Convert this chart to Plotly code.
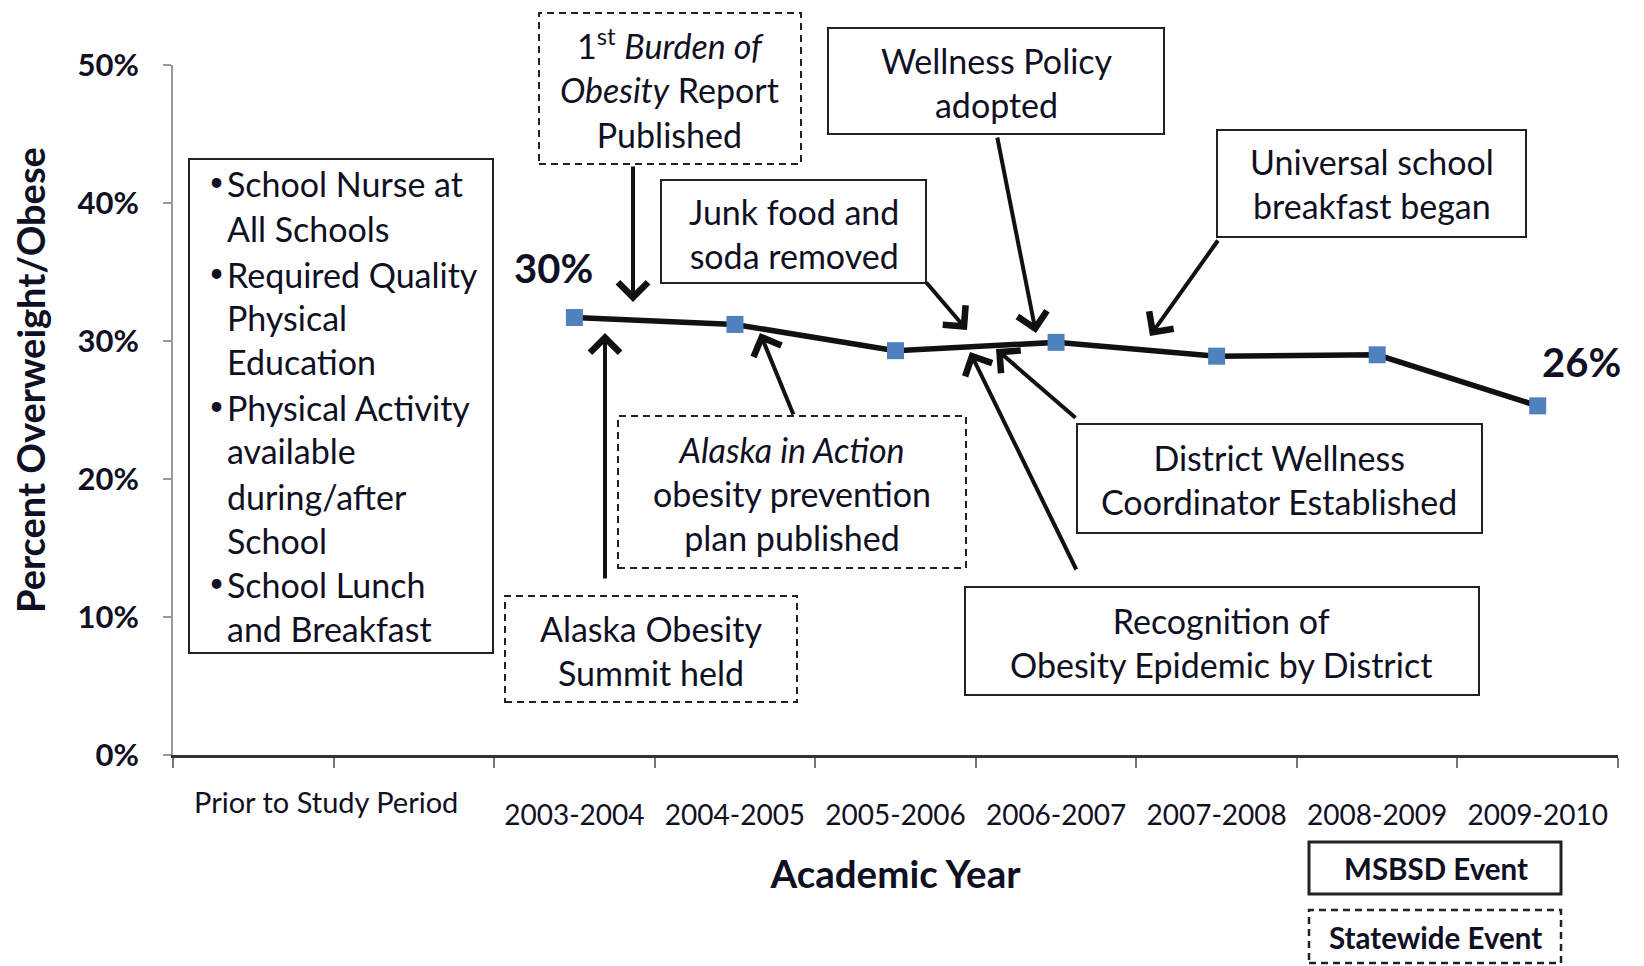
import plotly.graph_objects as go

# ---------------- data ----------------
categories = ["2003-2004", "2004-2005", "2005-2006", "2006-2007",
              "2007-2008", "2008-2009", "2009-2010"]
percent_overweight = [31.7, 31.2, 29.3, 29.9, 28.9, 29.0, 25.3]
prior_label = "Prior to Study Period"
y_ticks = [0, 10, 20, 30, 40, 50]
first_label = "30%"
last_label = "26%"
y_title = "Percent Overweight/Obese"
x_title = "Academic Year"

prior_items = ["School Nurse at", "All Schools", "Required Quality", "Physical",
               "Education", "Physical Activity", "available", "during/after",
               "School", "School Lunch", "and Breakfast"]
prior_bullet_lines = [0, 2, 5, 9]

event_texts = [
    "1<sup>st</sup> <i>Burden of</i><br><i>Obesity</i> Report<br>Published",
    "Wellness Policy<br>adopted",
    "Junk food and<br>soda removed",
    "Universal school<br>breakfast began",
    "<i>Alaska in Action</i><br>obesity prevention<br>plan published",
    "Alaska Obesity<br>Summit held",
    "District Wellness<br>Coordinator Established",
    "Recognition of<br>Obesity Epidemic by District",
]
event_kind = ["state", "district", "district", "district",
              "state", "state", "district", "district"]
legend_texts = ["MSBSD Event", "Statewide Event"]

# ---------------- layout geometry (pixels) ----------------
W, H = 1644, 966
L, R, T, B = 173, 1618, 65, 755


def px_x(px):
    return (px - L) / (R - L)


def px_y(py):
    return (B - py) / (B - T)


FONT = "Lato, 'Open Sans', sans-serif"
TXT = "#101024"

x_pos = [i + 2.5 for i in range(len(categories))]

fig = go.Figure()
fig.add_trace(go.Scatter(
    x=x_pos, y=percent_overweight, mode="lines+markers",
    line=dict(color="#111111", width=5.5),
    marker=dict(symbol="square", size=17, color="#4F81BD",
                line=dict(width=0)),
    hoverinfo="skip", showlegend=False,
))

shapes = []
annotations = []


def box(x0, y0, x1, y1, dashed, width=2):
    shapes.append(dict(
        type="rect", xref="paper", yref="paper",
        x0=px_x(x0), x1=px_x(x1), y0=px_y(y1), y1=px_y(y0),
        line=dict(color="#222222", width=width,
                  dash="7px,5px" if dashed else "solid"),
        fillcolor="rgba(0,0,0,0)", layer="above",
    ))


def text(cx, cy, s, size=34, bold=False, xanchor="center", angle=0):
    annotations.append(dict(
        x=px_x(cx), y=px_y(cy), xref="paper", yref="paper",
        text=s, showarrow=False, xanchor=xanchor, yanchor="middle",
        align="center" if xanchor == "center" else "left",
        textangle=angle,
        font=dict(family=FONT, size=size, color=TXT,
                  weight="bold" if bold else "normal"),
    ))


def arrow(tx, ty, hx, hy):
    annotations.append(dict(
        x=px_x(hx), y=px_y(hy), xref="paper", yref="paper",
        ax=tx - hx, ay=ty - hy, axref="pixel", ayref="pixel",
        text="", showarrow=True, arrowhead=4, arrowsize=1.45,
        arrowwidth=4, arrowcolor="#111111", standoff=0, startstandoff=0,
    ))


# prior-period box with bullets
box(189, 159, 493, 653, False)
line_y = [183, 228, 274, 317, 362, 407, 451, 496, 540, 584, 628]
for i, s in enumerate(prior_items):
    text(225, line_y[i], s, size=34, xanchor="left")
    if i in prior_bullet_lines:
        text(207, line_y[i] - 2, "•", size=26, xanchor="left")

# event boxes: (box rect, text centre)
event_boxes = [
    ((539, 13, 801, 164), (669, 88)),
    ((828, 28, 1164, 134), (997, 82)),
    ((661, 180, 926, 283), (794, 234)),
    ((1217, 130, 1526, 237), (1372, 183)),
    ((618, 416, 966, 568), (792, 493)),
    ((505, 596, 797, 702), (651, 650)),
    ((1077, 424, 1482, 533), (1279, 479)),
    ((965, 587, 1479, 695), (1221, 642)),
]
for s, kind, (rect, c) in zip(event_texts, event_kind, event_boxes):
    box(*rect, dashed=(kind == "state"))
    text(c[0], c[1], s, size=34)

# arrows (tail -> head)
arrow(633, 165, 633, 302)
arrow(605, 580, 605, 333)
arrow(794, 416, 760, 333)
arrow(925, 281, 967, 330)
arrow(997, 136, 1036, 333)
arrow(1219, 239, 1150, 336)
arrow(1077, 419, 996, 349)
arrow(1077, 571, 970, 352)

# legend boxes
box(1309, 842, 1561, 894, False, width=3)
box(1309, 910, 1561, 963, True, width=2.5)
text(1436, 868, legend_texts[0], size=29.5, bold=True)
text(1435, 937, legend_texts[1], size=29.5, bold=True)

# y-axis title (placed as in the reference, slightly above centre)
text(30, 380, y_title, size=38, bold=True, angle=-90)

# prior-period category label (sits a little higher than the year labels)
annotations.append(dict(x=0.95, y=px_y(802), xref="x", yref="paper",
                        text=prior_label, showarrow=False, yanchor="middle",
                        font=dict(family=FONT, size=29, color=TXT)))

# first / last value labels
annotations.append(dict(x=x_pos[0], y=percent_overweight[0], xref="x", yref="y",
                        text=first_label, showarrow=False, xshift=-21, yshift=50,
                        font=dict(family=FONT, size=40, color=TXT, weight="bold")))
annotations.append(dict(x=x_pos[-1], y=percent_overweight[-1], xref="x", yref="y",
                        text=last_label, showarrow=False, xshift=44, yshift=44,
                        font=dict(family=FONT, size=40, color=TXT, weight="bold")))

fig.update_layout(
    width=W, height=H,
    margin=dict(l=L, r=W - R, t=T, b=H - B, pad=0),
    paper_bgcolor="white", plot_bgcolor="white",
    font=dict(family=FONT, color=TXT),
    showlegend=False,
    shapes=shapes, annotations=annotations,
    xaxis=dict(
        range=[0, 9], showgrid=False, zeroline=False,
        showline=True, linecolor="#333333", linewidth=3,
        tickmode="array", tickvals=x_pos,
        ticktext=categories, ticks="",
        tickfont=dict(family=FONT, size=28, color=TXT),
        ticklabelstandoff=33,
        minor=dict(tickmode="array", tickvals=list(range(10)), ticks="outside",
                   ticklen=10, tickwidth=1.5, tickcolor="#777777"),
        title=dict(text=x_title, standoff=32,
                   font=dict(family=FONT, size=38.5, color=TXT, weight="bold")),
        fixedrange=True,
    ),
    yaxis=dict(
        range=[0, 50], showgrid=False, zeroline=False,
        showline=True, linecolor="#999999", linewidth=2,
        tickmode="array", tickvals=y_ticks,
        ticktext=[f"{v}%" for v in y_ticks],
        ticks="outside", ticklen=8, tickcolor="#999999", tickwidth=1.5,
        tickfont=dict(family=FONT, size=31, color=TXT, weight="bold"),
        ticklabelstandoff=18,
        fixedrange=True,
    ),
)

fig.write_html("out.html", config={"displayModeBar": False},
               post_script="document.body.style.margin='0';document.body.style.overflow='hidden';")
